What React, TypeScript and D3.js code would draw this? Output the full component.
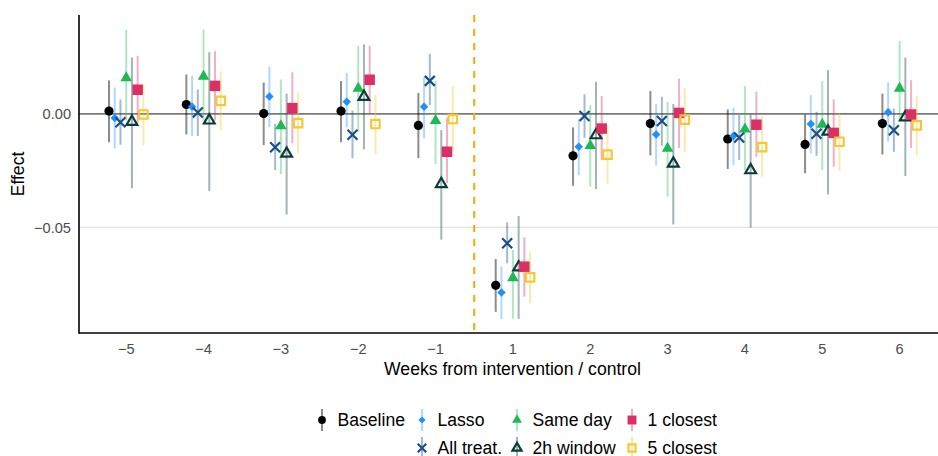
import * as d3 from "d3"

const weeks = ["-5", "-4", "-3", "-2", "-1", "1", "2", "3", "4", "5", "6"]
const yTicks = [0, -0.05]

const seriesNames = ["Baseline", "Lasso", "All treat.", "Same day", "2h window", "1 closest", "5 closest"]

const baselineEst = [0.0012, 0.0041, 0.0001, 0.0012, -0.0051, -0.0755, -0.0185, -0.0043, -0.0111, -0.0135, -0.0043]
const baselineLo = [-0.0125, -0.0091, -0.0138, -0.0125, -0.0195, -0.0872, -0.0317, -0.0183, -0.0243, -0.0262, -0.0179]
const baselineHi = [0.0147, 0.0173, 0.0138, 0.0144, 0.0092, -0.0639, -0.006, 0.0101, 0.0019, -0.0003, 0.0089]

const lassoEst = [-0.0018, 0.0031, 0.0076, 0.0053, 0.0031, -0.0787, -0.0145, -0.0091, -0.0098, -0.0045, 0.0007]
const lassoLo = [-0.0152, -0.0098, -0.0059, -0.006, -0.0108, -0.0903, -0.0271, -0.0227, -0.0227, -0.0174, -0.0123]
const lassoHi = [0.0116, 0.0167, 0.0208, 0.018, 0.0163, -0.0673, -0.0025, 0.0044, 0.0026, 0.0082, 0.0138]

const allTreatEst = [-0.0037, 0.0006, -0.0147, -0.0092, 0.0145, -0.057, -0.001, -0.0032, -0.0104, -0.0088, -0.0072]
const allTreatLo = [-0.0136, -0.0097, -0.0248, -0.0196, 0.0038, -0.0658, -0.0106, -0.0141, -0.0203, -0.0185, -0.0167]
const allTreatHi = [0.0063, 0.0107, -0.0044, 0.0015, 0.0264, -0.0478, 0.0086, 0.0075, -0.0005, 0.0009, 0.0023]

const sameDayEst = [0.0158, 0.0165, -0.0053, 0.0112, -0.003, -0.0722, -0.014, -0.0152, -0.0068, -0.0047, 0.0112]
const sameDayLo = [-0.003, -0.003, -0.0265, -0.008, -0.0221, -0.0903, -0.0321, -0.0365, -0.0248, -0.0248, -0.003]
const sameDayHi = [0.0371, 0.0372, 0.0151, 0.03, 0.0145, -0.06, 0.0038, 0.0053, 0.0122, 0.0144, 0.0321]

const twoHourEst = [-0.0035, -0.0029, -0.0175, 0.0075, -0.0309, -0.0676, -0.0094, -0.0219, -0.0248, -0.0078, -0.0015]
const twoHourLo = [-0.0328, -0.0339, -0.0443, -0.0157, -0.0554, -0.0903, -0.0331, -0.0487, -0.0501, -0.0355, -0.0274]
const twoHourHi = [0.0248, 0.0271, 0.0089, 0.0306, -0.0072, -0.045, 0.0141, 0.0043, -0.0003, 0.0192, 0.0248]

const closest1Est = [0.0106, 0.0123, 0.0025, 0.015, -0.0167, -0.0673, -0.0065, 0.0004, -0.0048, -0.0084, -0.0003]
const closest1Lo = [-0.004, -0.003, -0.013, 0.0, -0.0306, -0.0805, -0.0204, -0.015, -0.0189, -0.0233, -0.015]
const closest1Hi = [0.0254, 0.0276, 0.0183, 0.03, -0.0018, -0.0544, 0.0078, 0.0155, 0.0097, 0.0063, 0.0148]

const closest5Est = [-0.0003, 0.0057, -0.0041, -0.0045, -0.0023, -0.072, -0.018, -0.0026, -0.0147, -0.0123, -0.0051]
const closest5Lo = [-0.0138, -0.0072, -0.0174, -0.0177, -0.0167, -0.0834, -0.0308, -0.0169, -0.0277, -0.0251, -0.0183]
const closest5Hi = [0.0129, 0.0186, 0.0094, 0.0084, 0.0122, -0.0608, -0.0054, 0.0113, -0.001, 0.0001, 0.0078]

const FONT = "'Liberation Sans', Arial, Helvetica, sans-serif"

type Shape = "circle" | "diamond" | "x" | "tri" | "triOpen" | "square" | "squareOpen"
interface Series { name: string; est: number[]; lo: number[]; hi: number[]; color: string; ci: string; shape: Shape }

const series: Series[] = [
  { name: seriesNames[0], est: baselineEst, lo: baselineLo, hi: baselineHi, color: "#000000", ci: "rgba(0,0,0,0.45)", shape: "circle" },
  { name: seriesNames[1], est: lassoEst, lo: lassoLo, hi: lassoHi, color: "#1E90FF", ci: "rgba(30,144,255,0.35)", shape: "diamond" },
  { name: seriesNames[2], est: allTreatEst, lo: allTreatLo, hi: allTreatHi, color: "#1B4E88", ci: "rgba(27,78,136,0.4)", shape: "x" },
  { name: seriesNames[3], est: sameDayEst, lo: sameDayLo, hi: sameDayHi, color: "#1DB954", ci: "rgba(29,185,84,0.35)", shape: "tri" },
  { name: seriesNames[4], est: twoHourEst, lo: twoHourLo, hi: twoHourHi, color: "#0B3D38", ci: "rgba(11,61,56,0.38)", shape: "triOpen" },
  { name: seriesNames[5], est: closest1Est, lo: closest1Lo, hi: closest1Hi, color: "#DC2F66", ci: "rgba(220,47,102,0.38)", shape: "square" },
  { name: seriesNames[6], est: closest5Est, lo: closest5Lo, hi: closest5Hi, color: "#F5C934", ci: "rgba(245,201,52,0.4)", shape: "squareOpen" },
]

function Marker({ shape, color, x, y, k = 1 }: { shape: Shape; color: string; x: number; y: number; k?: number }) {
  const t = `translate(${x},${y})`
  if (shape === "circle") return <circle cx={x} cy={y} r={4.6 * k} fill={color} />
  if (shape === "diamond")
    return <path transform={`${t} rotate(45)`} d={d3.symbol().type(d3.symbolSquare).size(36 * k * k)()!} fill={color} />
  if (shape === "x") {
    const s = 5 * k
    return <path transform={t} d={`M${-s},${-s}L${s},${s}M${-s},${s}L${s},${-s}`} stroke={color} strokeWidth={2.2} fill="none" />
  }
  if (shape === "tri") return <path transform={t} d={d3.symbol().type(d3.symbolTriangle).size(58 * k * k)()!} fill={color} />
  if (shape === "triOpen")
    return <path transform={t} d={d3.symbol().type(d3.symbolTriangle).size(50 * k * k)()!} fill="none" stroke={color} strokeWidth={2.2} strokeLinejoin="miter" />
  if (shape === "square") return <path transform={t} d={d3.symbol().type(d3.symbolSquare).size(110 * k * k)()!} fill={color} />
  return <path transform={t} d={d3.symbol().type(d3.symbolSquare).size(72 * k * k)()!} fill="none" stroke={color} strokeWidth={2.2} />
}

export default function App() {
  const W = 938, H = 456
  const left = 79, top = 15, bottom = 333
  const x = d3.scalePoint<string>().domain(weeks).range([126.2, 899.6])
  const dodge = d3.scalePoint<string>().domain(seriesNames).range([-17.2, 17.2])
  const y = d3.scaleLinear().domain([-0.0965, 0.0435]).range([bottom, top])
  const fmt = (v: number) => (v < 0 ? "\u2212" : "") + d3.format(".2f")(Math.abs(v))
  const vlineX = (x("-1")! + x("1")!) / 2

  // legend layout: 4 columns, 2 rows
  const legCols = [322, 422, 517, 632]
  const legRows = [420, 448]
  const legendPos: [number, number][] = [[0, 0], [1, 0], [1, 1], [2, 0], [2, 1], [3, 0], [3, 1]]

  return (
    <svg width={W} height={H} style={{ position: "absolute", left: 0, top: 0, background: "#fff" }} fontFamily={FONT}>
      {/* grid */}
      {yTicks.filter(v => v !== 0).map(v => (
        <line key={v} x1={left} x2={W} y1={y(v)} y2={y(v)} stroke="#e3e3e3" strokeWidth={1.1} />
      ))}
      <line x1={left} x2={W} y1={y(0)} y2={y(0)} stroke="#7a7a7a" strokeWidth={1.8} />
      <line x1={vlineX} x2={vlineX} y1={top} y2={bottom} stroke="#FFA500" strokeWidth={2} strokeDasharray="7,7" />

      {/* CI lines */}
      {series.map(s => (
        <g key={s.name + "ci"}>
          {weeks.map((w, i) => (
            <line key={w} x1={x(w)! + dodge(s.name)!} x2={x(w)! + dodge(s.name)!} y1={y(s.lo[i])} y2={y(s.hi[i])} stroke={s.ci} strokeWidth={2} />
          ))}
        </g>
      ))}
      {/* points */}
      {series.map(s => (
        <g key={s.name + "pt"}>
          {weeks.map((w, i) => (
            <Marker key={w} shape={s.shape} color={s.color} x={x(w)! + dodge(s.name)!} y={y(s.est[i])} />
          ))}
        </g>
      ))}

      {/* axes */}
      <line x1={left} x2={left} y1={top} y2={bottom + 0.8} stroke="#000" strokeWidth={1.6} />
      <line x1={left} x2={W} y1={bottom} y2={bottom} stroke="#000" strokeWidth={1.6} />
      {yTicks.map(v => (
        <text key={v} x={71} y={y(v)} dy="0.36em" textAnchor="end" fontSize={14.6} fill="#4d4d4d">{fmt(v)}</text>
      ))}
      {weeks.map(w => (
        <text key={w} x={x(w)} y={349} dy="0.36em" textAnchor="middle" fontSize={14.6} fill="#4d4d4d">{w.replace("-", "\u2212")}</text>
      ))}
      <text x={(left + 946) / 2 - 0} y={369} dy="0.36em" textAnchor="middle" fontSize={17.6} fill="#000">Weeks from intervention / control</text>
      <text transform={`translate(18,${(top + bottom) / 2}) rotate(-90)`} dy="0.36em" textAnchor="middle" fontSize={17.6} fill="#000">Effect</text>

      {/* legend */}
      {series.map((s, i) => {
        const [c, r] = legendPos[i]
        const kx = legCols[c], ky = legRows[r]
        return (
          <g key={s.name + "leg"}>
            <line x1={kx} x2={kx} y1={ky - 11} y2={ky + 11} stroke={s.ci} strokeWidth={2} />
            <Marker shape={s.shape} color={s.color} x={kx} y={ky} k={0.85} />
            <text x={kx + 15.5} y={ky} dy="0.36em" fontSize={17.6} fill="#000">{s.name}</text>
          </g>
        )
      })}
    </svg>
  )
}
